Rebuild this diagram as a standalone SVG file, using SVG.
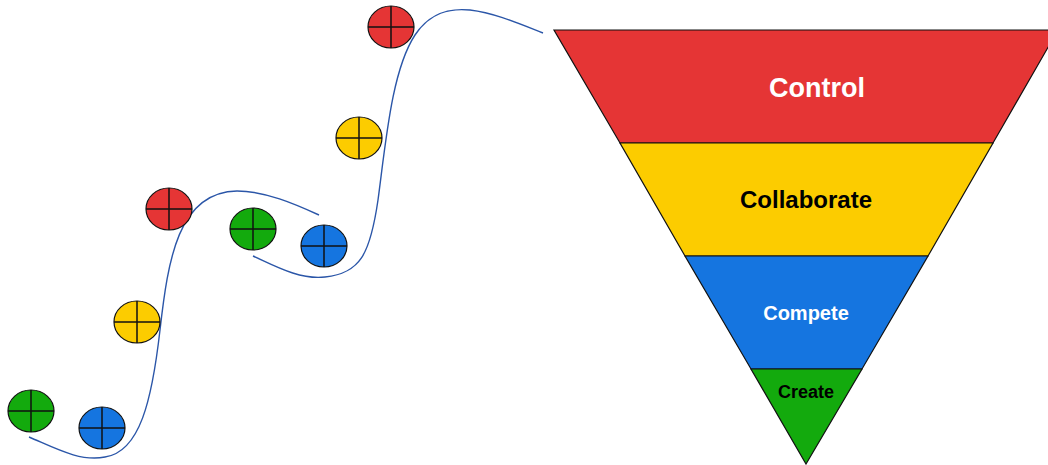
<svg xmlns="http://www.w3.org/2000/svg" width="1048" height="465" viewBox="0 0 1048 465">
<style>
.b{stroke:#111;stroke-width:1.2}
.x{stroke:#111;stroke-width:1.5;fill:none}
.r{fill:#E53535}.y{fill:#FCCC00}.u{fill:#1575E0}.g{fill:#13AA0D}
.c{fill:none;stroke:#2B56A8;stroke-width:1.4}
text{font-family:"Liberation Sans",Arial,sans-serif;font-weight:bold;text-anchor:middle}
</style>
<defs>
<g id="cross"><ellipse class="b" cx="0" cy="0" rx="23" ry="21" fill="inherit"/><path class="x" d="M-23,0H23M0,-21V21"/></g>
</defs>
<g id="connectors">
<path class="c" d="M29,437 C55,448 80,462 105,457 C140,452 152,400 160,330 C168,260 178,192 237,191 C265,191 295,204 319,215"/>
<path class="c" d="M253,256 C275,266 300,280 325,277 C360,273 370,255 378,200 C386,140 392,70 415,35 C430,12 450,8 470,10 C495,13 520,24 543,33"/>
</g>
<g id="funnel">
<g id="control"><polygon class="b r" points="554,30 1058,30 993,143 620,143"/><text x="817" y="97" font-size="27" fill="#fff">Control</text></g>
<g id="collaborate"><polygon class="b y" points="620,143 993,143 928,256 685,256"/><text x="806" y="208" font-size="24" fill="#000">Collaborate</text></g>
<g id="compete"><polygon class="b u" points="685,256 928,256 862,369 751,369"/><text x="806" y="320" font-size="20" fill="#fff">Compete</text></g>
<g id="create"><polygon class="b g" points="751,369 862,369 806,464"/><text x="806" y="398" font-size="18" fill="#000">Create</text></g>
</g>
<g id="ball-green-1" class="g" transform="translate(31,411)"><use href="#cross"/></g>
<g id="ball-blue-1" class="u" transform="translate(102,428)"><use href="#cross"/></g>
<g id="ball-yellow-1" class="y" transform="translate(137,322)"><use href="#cross"/></g>
<g id="ball-red-1" class="r" transform="translate(169,209)"><use href="#cross"/></g>
<g id="ball-green-2" class="g" transform="translate(253,229)"><use href="#cross"/></g>
<g id="ball-blue-2" class="u" transform="translate(324,246)"><use href="#cross"/></g>
<g id="ball-yellow-2" class="y" transform="translate(359,138)"><use href="#cross"/></g>
<g id="ball-red-2" class="r" transform="translate(391,27)"><use href="#cross"/></g>
</svg>
